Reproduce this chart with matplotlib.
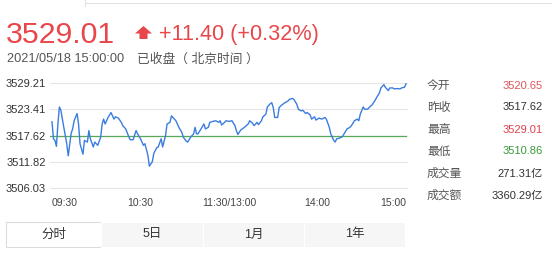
import matplotlib
matplotlib.use("Agg")
import matplotlib.pyplot as plt
from matplotlib.patches import Rectangle, Polygon
from matplotlib.lines import Line2D

plt.rcParams['font.family'] = ['Liberation Sans', 'Noto Sans CJK SC', 'DejaVu Sans']

# ---- data ----
minutes = [0, 1, 2, 3, 4, 5, 6, 8, 10, 11, 13, 14, 15, 17, 18, 19, 21, 22, 24, 25,
           26, 28, 29, 31, 33, 34, 35, 36, 38, 40, 42, 43, 45, 47, 48, 50, 52, 53, 55, 57,
           58, 60, 62, 63, 65, 66, 68, 69, 71, 72, 74, 75, 77, 78, 80, 81, 83, 84, 86, 88,
           89, 91, 92, 94, 96, 97, 98, 99, 101, 103, 104, 106, 107, 109, 111, 113, 114, 115, 117,
           118, 120, 122, 124, 125, 126, 128, 129, 131, 133, 134, 136, 137, 139, 140, 142, 143,
           145, 146, 148, 149, 150, 151, 153, 154, 155, 157, 158, 160, 161, 163, 164, 166, 167,
           169, 170, 172, 173, 175, 176, 178, 179, 181, 183, 185, 186, 188, 189, 191, 192, 193,
           195, 197, 198, 200, 202, 203, 205, 207, 208, 209, 211, 212, 214, 216, 217, 219, 220,
           222, 223, 225, 226, 228, 229, 231, 232, 234, 236, 237, 239, 240]
prices = [3520.65, 3516.90, 3516.53, 3515.23, 3520.16, 3523.92, 3523.20, 3519.43, 3515.81, 3513.13,
          3518.13, 3519.07, 3520.88, 3522.47, 3520.16, 3515.81, 3513.49, 3516.53, 3516.17, 3518.71,
          3516.90, 3515.08, 3516.17, 3515.45, 3517.26, 3520.16, 3521.24, 3520.16, 3521.60, 3522.69,
          3521.24, 3521.75, 3521.46, 3520.52, 3519.79, 3519.07, 3517.40, 3516.68, 3516.68, 3518.71,
          3517.98, 3516.90, 3515.45, 3515.81, 3513.27, 3510.86, 3511.82, 3513.64, 3514.94, 3515.08,
          3516.90, 3515.08, 3517.62, 3520.16, 3520.52, 3521.97, 3521.24, 3520.88, 3519.43, 3518.34,
          3517.26, 3516.39, 3516.17, 3517.26, 3517.98, 3519.43, 3517.98, 3517.98, 3519.07, 3520.16,
          3519.07, 3519.43, 3520.52, 3520.73, 3520.88, 3520.52, 3520.88, 3519.94, 3520.52,
          3520.88, 3520.73, 3520.88, 3519.79, 3518.71, 3517.84, 3518.85, 3519.07, 3519.58, 3520.16,
          3520.88, 3520.30, 3519.79, 3520.52, 3520.01, 3520.88, 3521.75, 3522.33, 3523.92, 3524.65,
          3524.86, 3523.78, 3521.60, 3521.60, 3523.78, 3524.14, 3524.65, 3524.86, 3525.23, 3525.59,
          3525.81, 3525.59, 3524.50, 3523.42, 3523.05, 3523.20, 3522.47, 3522.69, 3522.18, 3521.24,
          3521.75, 3521.02, 3521.46, 3521.24, 3521.60, 3521.24, 3519.43, 3517.98, 3516.53, 3516.17,
          3516.90, 3517.04, 3517.40, 3517.98, 3519.07, 3519.43, 3519.79, 3520.88, 3521.24, 3520.88,
          3522.33, 3523.92, 3523.42, 3523.42, 3524.14, 3524.36, 3525.37, 3525.95, 3527.04, 3528.12,
          3528.85, 3528.27, 3527.54, 3528.12, 3528.12, 3527.91, 3527.98, 3527.91, 3528.12, 3528.27,
          3529.01]
prev_close = 3517.62
ytick_vals = [3529.21, 3523.41, 3517.62, 3511.82, 3506.03]
xtick_pos = [0, 60, 120, 180, 240]
xtick_labels = ["09:30", "10:30", "11:30/13:00", "14:00", "15:00"]

last_price = "3529.01"
change_text = "+11.40 (+0.32%)"
time_text = "2021/05/18 15:00:00"
status_text = "已收盘（ 北京时间 ）"

stat_names = ["今开", "昨收", "最高", "最低", "成交量", "成交额"]
stat_values = ["3520.65", "3517.62", "3529.01", "3510.86", "271.31亿", "3360.29亿"]
stat_colors = ["#e0555c", "#333333", "#e0414a", "#3a9a3a", "#333333", "#333333"]
tabs = ["分时", "5日", "1月", "1年"]

RED = "#e8464a"
W, H = 552, 256

fig = plt.figure(figsize=(W / 100, H / 100), dpi=100)
fig.patch.set_facecolor("white")


def fx(x):
    return x / W


def fy(y):
    return 1 - y / H


# top faint border
fig.add_artist(Line2D([fx(85), fx(552)], [fy(3), fy(3)], color="#e3e3e3", lw=0.8))
fig.add_artist(Line2D([fx(85), fx(85)], [fy(0), fy(6)], color="#e3e3e3", lw=0.8))

# header
fig.text(fx(6), fy(43), last_price, color=RED, fontsize=21.8, va="baseline", ha="left")
arrow = Polygon([(fx(135), fy(33.5)), (fx(143.5), fy(26)), (fx(152), fy(33.5)),
                 (fx(147.5), fy(33.5)), (fx(147.5), fy(39)), (fx(139.5), fy(39)),
                 (fx(139.5), fy(33.5))], closed=True, transform=fig.transFigure,
                facecolor=RED, edgecolor="none")
fig.add_artist(arrow)
fig.text(fx(159), fy(40), change_text, color=RED, fontsize=15.6, va="baseline", ha="left")
fig.text(fx(7), fy(62.5), time_text, color="#555555", fontsize=9.2, va="baseline", ha="left")
fig.text(fx(137), fy(62.5), status_text, color="#555555", fontsize=9.2, va="baseline", ha="left")

# chart
left_px, right_px, top_px, bot_px = 50, 407, 83, 188
ax = fig.add_axes([fx(left_px), fy(bot_px), (right_px - left_px) / W, (bot_px - top_px) / H])
ppm = (406 - 52) / 240.0
ax.set_xlim(-(52 - left_px) / ppm, 240 + (right_px - 406) / ppm)
ax.set_ylim(ytick_vals[-1], ytick_vals[0])
for s in ax.spines.values():
    s.set_visible(False)
for v in ytick_vals:
    ax.axhline(v, color="#e6e6e6", lw=0.8, zorder=1, clip_on=False)
ax.axhline(prev_close, color="#58a858", lw=0.9, zorder=2)
ax.plot(minutes, prices, color="#3a7de0", lw=1.0, zorder=3, clip_on=False)

ax.set_yticks(ytick_vals)
ax.set_yticklabels([f"{v:.2f}" for v in ytick_vals], fontsize=8, color="#333333")
ax.tick_params(axis="y", length=0, pad=3)
ax.set_xticks(xtick_pos)
ax.set_xticklabels(xtick_labels, fontsize=7.5, color="#444444")
ax.tick_params(axis="x", length=0, pad=7)
tl = ax.get_xticklabels()
tl[0].set_horizontalalignment("left")
tl[-1].set_horizontalalignment("right")
ax.patch.set_alpha(0)

# right stats panel
row_y = [86, 107.5, 130, 151.5, 173.5, 196]
for name, val, col, y in zip(stat_names, stat_values, stat_colors, row_y):
    fig.text(fx(427), fy(y), name, color="#555555", fontsize=8.5, va="center", ha="left")
    fig.text(fx(543), fy(y), val, color=col, fontsize=8, va="center", ha="right")

# tabs
tab_edges = [6, 101, 203, 304, 405]
for i, lab in enumerate(tabs):
    x0, x1 = tab_edges[i], tab_edges[i + 1]
    if i == 0:
        r = Rectangle((fx(x0), fy(247)), fx(x1 - x0), (247 - 222) / H, transform=fig.transFigure,
                      facecolor="white", edgecolor="#dcdcdc", lw=0.8)
    else:
        r = Rectangle((fx(x0), fy(247)), fx(x1 - x0), (247 - 222) / H, transform=fig.transFigure,
                      facecolor="#f6f6f6", edgecolor="white", lw=0.8)
    fig.add_artist(r)
    fig.text(fx((x0 + x1) / 2), fy(234.5), lab, color="#333333", fontsize=9,
             va="center", ha="center")

fig.savefig("out.png", dpi=100, facecolor="white")
